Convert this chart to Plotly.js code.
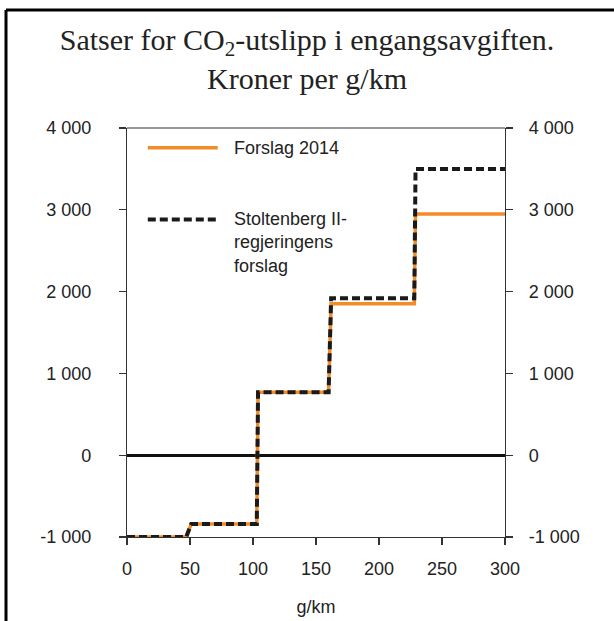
<!DOCTYPE html>
<html>
<head>
<meta charset="utf-8">
<script src="https://cdn.plot.ly/plotly-3.0.1.min.js"></script>
<style>html,body{margin:0;padding:0;background:#fff;}#chart{width:614px;height:621px;}</style>
</head>
<body>
<div id="chart"></div>
<script>
// g/km breakpoints (x) and rates (kroner per g/km)
const gkm = [0, 47, 51, 103, 104, 160, 162, 228, 229, 300];
const forslag2014 = [-1000, -1000, -840, -840, 770, 770, 1850, 1850, 2950, 2950];
const stoltenberg = [-1000, -1000, -840, -840, 770, 770, 1920, 1920, 3500, 3500];
const seriesNames = ["Forslag 2014", "Stoltenberg II-<br>regjeringens<br>forslag"];
const yTicks = [-1000, 0, 1000, 2000, 3000, 4000];
const yTickText = ["-1 000", "0", "1 000", "2 000", "3 000", "4 000"];
const xTicks = [0, 50, 100, 150, 200, 250, 300];

const orange = "#F28C28";
const font = "Liberation Sans, Arial, sans-serif";

const traces = [
  {x: gkm, y: forslag2014, name: seriesNames[0], mode: "lines",
   line: {color: orange, width: 3.5}, showlegend: false},
  {x: gkm, y: stoltenberg, name: seriesNames[1], mode: "lines",
   line: {color: "#1a1a1a", width: 4, dash: "8px,4px"}, showlegend: false},
  {x: [gkm[0]], y: [yTicks[0]], yaxis: "y2", mode: "lines", hoverinfo: "skip",
   showlegend: false, line: {width: 0}}
];

const axisCommon = {
  showgrid: false, showline: true, linecolor: "#333", linewidth: 1.2,
  ticks: "outside", ticklen: 7, tickcolor: "#333", tickwidth: 1.2,
  tickfont: {family: font, size: 18, color: "#222"}
};

const layout = {
  width: 614, height: 621,
  margin: {l: 127, r: 109, t: 128, b: 84},
  paper_bgcolor: "#fff", plot_bgcolor: "#fff",
  title: {text: "Satser for CO<sub>2</sub>-utslipp i engangsavgiften.<br>Kroner per g/km",
          font: {family: "Liberation Serif, Times New Roman, serif", size: 30, color: "#222"},
          x: 0.5, xanchor: "center", y: 0.92, yanchor: "top"},
  xaxis: Object.assign({}, axisCommon, {
    range: [0, 300], tickvals: xTicks, zeroline: false, ticklabelstandoff: 8,
    title: {text: "g/km", font: {family: font, size: 18, color: "#222"}, standoff: 22}
  }),
  yaxis: Object.assign({}, axisCommon, {
    range: [-1000, 4000], tickvals: yTicks, ticktext: yTickText,
    zeroline: true, zerolinecolor: "#111", zerolinewidth: 2.6,
    ticklabelstandoff: 24
  }),
  yaxis2: Object.assign({}, axisCommon, {
    range: [-1000, 4000], tickvals: yTicks, ticktext: yTickText,
    overlaying: "y", side: "right", zeroline: false, ticklabelstandoff: 12
  }),
  showlegend: false,
  shapes: [
    {type: "line", xref: "paper", yref: "paper", x0: 0, x1: 1, y0: 1, y1: 1,
     line: {color: "#333", width: 1.2}},
    {type: "line", xref: "paper", yref: "paper", x0: 0.055, x1: 0.24, y0: 0.952, y1: 0.952,
     line: {color: orange, width: 3.5}},
    {type: "line", xref: "paper", yref: "paper", x0: 0.055, x1: 0.24, y0: 0.776, y1: 0.776,
     line: {color: "#1a1a1a", width: 4, dash: "8px,4px"}}
  ],
  annotations: [
    {xref: "paper", yref: "paper", x: 0.278, y: 0.952, xanchor: "left", yanchor: "middle",
     text: seriesNames[0], showarrow: false, align: "left",
     font: {family: font, size: 18, color: "#222"}},
    {xref: "paper", yref: "paper", x: 0.278, y: 0.807, xanchor: "left", yanchor: "top",
     text: seriesNames[1], showarrow: false, align: "left",
     font: {family: font, size: 18, color: "#222"}}
  ]
};

Plotly.newPlot("chart", traces, layout, {displayModeBar: false, staticPlot: true});
</script>
<svg style="position:absolute;left:0;top:0;pointer-events:none" width="614" height="621">
  <line x1="6" y1="10" x2="614" y2="10" stroke="#000" stroke-width="3"/>
  <line x1="6" y1="10" x2="6" y2="621" stroke="#000" stroke-width="3"/>
</svg>
</body>
</html>
